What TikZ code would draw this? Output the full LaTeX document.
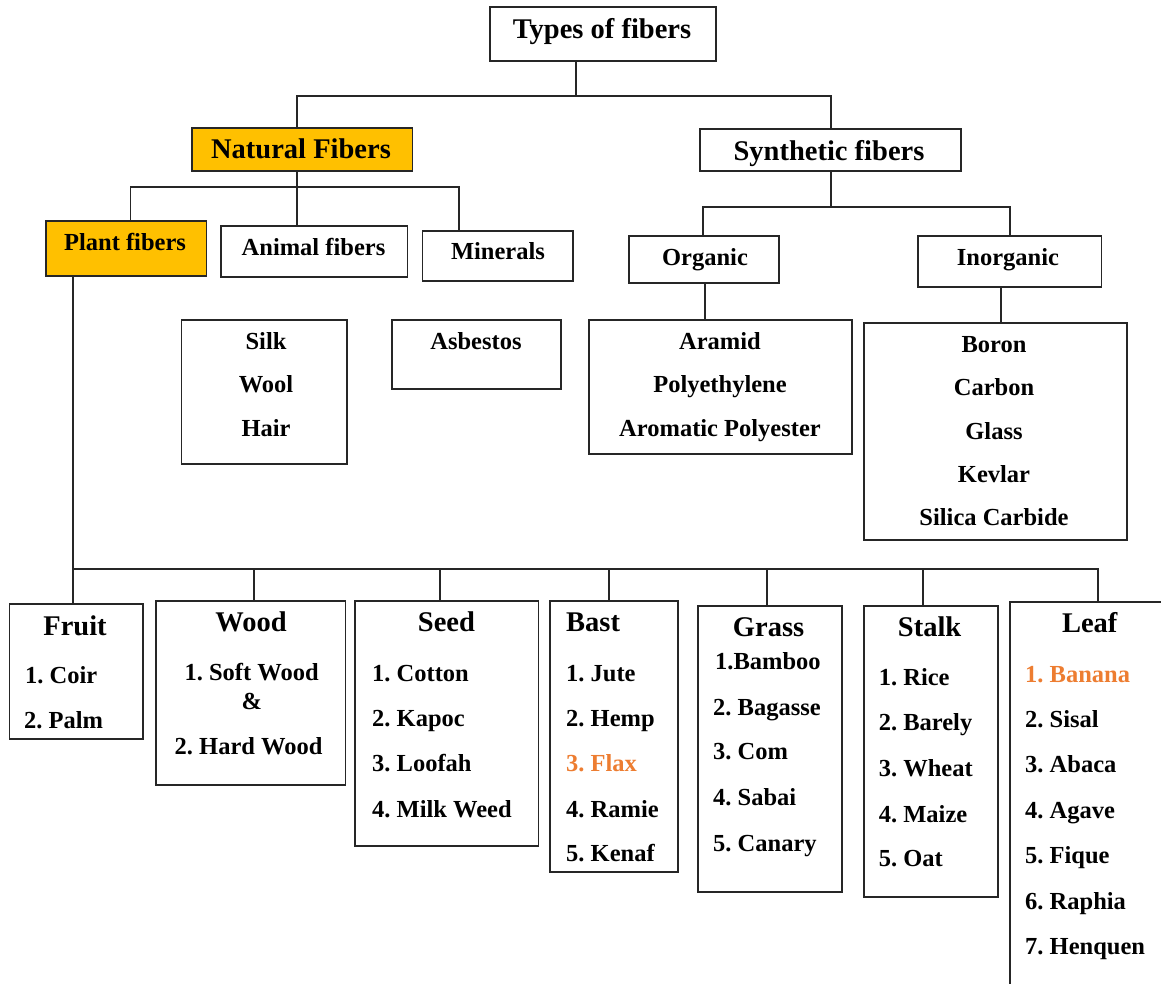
\documentclass[tikz,border=0pt]{standalone}
\usepackage{fontspec}
\setmainfont{Liberation Serif}
\definecolor{gold}{HTML}{FFC000}
\definecolor{orng}{HTML}{ED7D31}
\tikzset{
 box/.style={draw=black!85, line width=1.3pt, inner sep=0pt, outer sep=0pt},
 conn/.style={line width=1.3pt, draw=black!85},
 big/.style={font=\fontsize{28.5}{30}\selectfont\bfseries\frenchspacing, inner sep=0pt, anchor=base},
 sml/.style={font=\fontsize{24.5}{26}\selectfont\bfseries\frenchspacing, inner sep=0pt, anchor=base},
 lft/.style={sml, anchor=base west},
 hl/.style={text=orng}
}
\newcommand\mkbox[6][]{\node[box,#1,minimum width={#4-#2},minimum height={#5-#3}] (#6) at ({(#2+#4)/2},{(#3+#5)/2}) {};}
\begin{document}
\frenchspacing
\begin{tikzpicture}[x=1pt,y=-1pt]
\useasboundingbox (0,0) rectangle (1161,983);
\clip (0,0) rectangle (1161,983);
% boxes
\mkbox{490}{7}{716}{61}{types}
\mkbox[fill=gold]{192}{128}{412.5}{171}{nat}
\mkbox{700}{129}{961}{171}{syn}
\mkbox[fill=gold]{46}{221}{206.7}{276}{plant}
\mkbox{221}{226}{407.6}{277}{animal}
\mkbox{422.5}{231}{573}{281}{mineral}
\mkbox{629}{236}{779}{283}{org}
\mkbox{918}{236}{1101.5}{287}{inorg}
\mkbox{181.7}{320}{347}{464}{animallist}
\mkbox{392}{320}{561}{389}{minerallist}
\mkbox{589}{320}{852}{454}{orglist}
\mkbox{864}{323}{1127}{540}{inorglist}
\mkbox{9.6}{604}{143}{739}{fruit}
\mkbox{156}{601}{345.7}{785}{wood}
\mkbox{355}{601}{538.6}{846}{seed}
\mkbox{550}{601}{678}{872}{bast}
\mkbox{698}{606}{842}{892}{grass}
\mkbox{864}{606}{998}{897}{stalk}
\mkbox{1010}{602}{1200}{1010}{leaf}
% connectors
\coordinate (j0) at (576,96);
\coordinate (j0L) at (297,96);
\coordinate (j0R) at (831,96);
\draw[conn] (types.south -| j0) -- (j0);
\draw[conn] (nat.north -| j0L) |- (j0R) -- (syn.north -| j0R);
\coordinate (j1) at (297,187);
\coordinate (j1L) at (130.5,187);
\coordinate (j1R) at (459,187);
\draw[conn] (nat.south -| j1) -- (j1) -- (animal.north -| j1);
\draw[conn] (plant.north -| j1L) |- (j1R) -- (mineral.north -| j1R);
\coordinate (j2) at (831,207);
\coordinate (j2L) at (703,207);
\coordinate (j2R) at (1010,207);
\draw[conn] (syn.south -| j2) -- (j2);
\draw[conn] (org.north -| j2L) |- (j2R) -- (inorg.north -| j2R);
\coordinate (k1) at (705,300);
\coordinate (k2) at (1001,300);
\draw[conn] (org.south -| k1) -- (orglist.north -| k1);
\draw[conn] (inorg.south -| k2) -- (inorglist.north -| k2);
\coordinate (j3) at (73,569);
\coordinate (j3R) at (1098,569);
\draw[conn] (plant.south -| j3) -- (fruit.north -| j3);
\draw[conn] (j3) -- (j3R) -- (leaf.north -| j3R);
\coordinate (dW) at (254,569);
\coordinate (dS) at (440,569);
\coordinate (dB) at (609,569);
\coordinate (dG) at (767,569);
\coordinate (dT) at (923,569);
\draw[conn] (dW) -- (wood.north -| dW);
\draw[conn] (dS) -- (seed.north -| dS);
\draw[conn] (dB) -- (bast.north -| dB);
\draw[conn] (dG) -- (grass.north -| dG);
\draw[conn] (dT) -- (stalk.north -| dT);
% texts
\node[big] (ttypes) at (602,38) {Types of fibers};
\node[big] (tnat) at (301,158) {Natural Fibers};
\node[big] (tsyn) at (829,160) {Synthetic fibers};
\node[sml] (tplant) at (125,250) {Plant fibers};
\node[sml] (tanimal) at (313.5,255) {Animal fibers};
\node[sml] (tmineral) at (498,259) {Minerals};
\node[sml] (torg) at (705,265) {Organic};
\node[sml] (tinorg) at (1008,265) {Inorganic};
\node[sml] (tsilk) at (266,349) {Silk};
\node[sml] (twool) at (266,392) {Wool};
\node[sml] (thair) at (266,436) {Hair};
\node[sml] (tasb) at (476,349) {Asbestos};
\node[sml] (taram) at (720,349) {Aramid};
\node[sml] (tpoly) at (720,392) {Polyethylene};
\node[sml] (tarom) at (720,436) {Aromatic Polyester};
\node[sml] (tboron) at (994,352) {Boron};
\node[sml] (tcarbon) at (994,395) {Carbon};
\node[sml] (tglass) at (994,439) {Glass};
\node[sml] (tkevlar) at (994,482) {Kevlar};
\node[sml] (tsilica) at (994,525) {Silica Carbide};
% bottom
\node[big] (tfruit) at (75,635) {Fruit};
\node[lft] (f1) at (25,683) {1. Coir};
\node[lft] (f2) at (24,728) {2. Palm};
\node[big] (twood) at (251,631) {Wood};
\node[sml] (w1) at (251.6,680) {1. Soft Wood};
\node[sml] (w2) at (251.8,709) {\&};
\node[sml] (w3) at (248.6,754) {2. Hard Wood};
\node[big] (tseed) at (446.4,631) {Seed};
\node[lft] (s1) at (372,681) {1. Cotton};
\node[lft] (s2) at (372,726) {2. Kapoc};
\node[lft] (s3) at (372,771) {3. Loofah};
\node[lft] (s4) at (372,817) {4. Milk Weed};
\node[big, anchor=base west] (tbast) at (566,631) {Bast};
\node[lft] (b1) at (566,681) {1. Jute};
\node[lft] (b2) at (566,726) {2. Hemp};
\node[lft,hl] (b3) at (566,771) {3. Flax};
\node[lft] (b4) at (566,817) {4. Ramie};
\node[lft] (b5) at (566,861) {5. Kenaf};
\node[big] (tgrass) at (768.6,636) {Grass};
\node[lft] (g1) at (715,669) {1.Bamboo};
\node[lft] (g2) at (713,715) {2. Bagasse};
\node[lft] (g3) at (713,759) {3. Com};
\node[lft] (g4) at (713,805) {4. Sabai};
\node[lft] (g5) at (713,851) {5. Canary};
\node[big] (tstalk) at (929.6,636) {Stalk};
\node[lft] (k1t) at (878.6,685) {1. Rice};
\node[lft] (k2t) at (878.6,730) {2. Barely};
\node[lft] (k3t) at (878.6,776) {3. Wheat};
\node[lft] (k4t) at (878.6,822) {4. Maize};
\node[lft] (k5t) at (878.6,866) {5. Oat};
\node[big] (tleaf) at (1089.7,632) {Leaf};
\node[lft,hl] (l1) at (1025,682) {1. Banana};
\node[lft] (l2) at (1025,727) {2. Sisal};
\node[lft] (l3) at (1025,772) {3. Abaca};
\node[lft] (l4) at (1025,818) {4. Agave};
\node[lft] (l5) at (1025,863) {5. Fique};
\node[lft] (l6) at (1025,909) {6. Raphia};
\node[lft] (l7) at (1025,954) {7. Henquen};
\end{tikzpicture}
\end{document}
